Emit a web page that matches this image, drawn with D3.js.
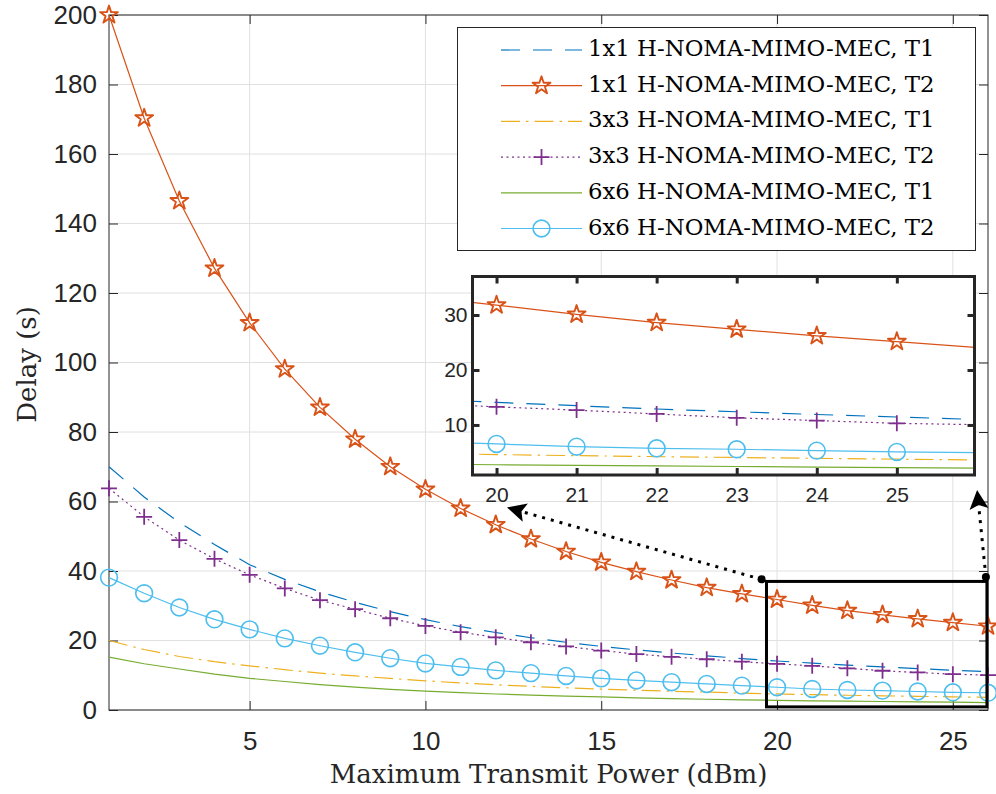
<!DOCTYPE html>
<html>
<head>
<meta charset="utf-8">
<script src="https://cdn.jsdelivr.net/npm/d3@7"></script>
<style>
  body { margin: 0; background: #fff; }
  svg { display: block; }
</style>
</head>
<body>
<svg id="chart" width="996" height="794"></svg>
<script>
// ---- data -------------------------------------------------------------
const power = [1, 2, 3, 4, 5, 6, 7, 8, 9, 10, 11, 12, 13, 14, 15, 16, 17, 18, 19, 20, 21, 22, 23, 24, 25, 26];

const delay1x1T1 = [70.0, 61.3, 54.0, 47.6, 41.8, 37.6, 34.0, 31.0, 28.3, 26.0, 24.0, 22.3, 20.8,
                    19.5, 18.3, 17.3, 16.4, 15.6, 14.8, 14.1, 13.5, 12.9, 12.4, 11.9, 11.45, 11.0];
const delay1x1T2 = [200, 170.3, 146.5, 127.1, 111.4, 98.1, 87.1, 77.9, 70.0, 63.5, 58.0, 53.3, 49.2,
                    45.6, 42.5, 39.8, 37.4, 35.2, 33.4, 31.8, 30.1, 28.6, 27.4, 26.2, 25.15, 24.1];
const delay3x3T1 = [20.0, 17.4, 15.4, 13.9, 12.7, 11.6, 10.6, 9.8, 9.1, 8.4, 7.8, 7.25, 6.8,
                    6.4, 6.0, 5.7, 5.4, 5.15, 4.85, 4.62, 4.42, 4.24, 4.08, 3.93, 3.78, 3.64];
const delay3x3T2 = [63.8, 55.6, 48.9, 43.5, 38.9, 35.0, 31.6, 29.0, 26.4, 24.2, 22.4, 20.9, 19.5,
                    18.3, 17.1, 16.1, 15.3, 14.6, 13.9, 13.3, 12.7, 12.0, 11.3, 10.8, 10.3, 10.05];
const delay6x6T1 = [15.2, 13.3, 11.8, 10.3, 9.1, 8.2, 7.3, 6.6, 5.95, 5.45, 5.0, 4.6, 4.3,
                    4.0, 3.75, 3.5, 3.3, 3.1, 2.92, 2.76, 2.65, 2.55, 2.45, 2.35, 2.25, 2.13];
const delay6x6T2 = [38.1, 33.6, 29.5, 26.1, 23.2, 20.6, 18.5, 16.6, 14.9, 13.4, 12.4, 11.4, 10.6,
                    9.8, 9.1, 8.5, 8.0, 7.5, 7.0, 6.55, 6.05, 5.76, 5.58, 5.33, 5.09, 4.96];

const seriesLabels = [
  "1x1 H-NOMA-MIMO-MEC, T1",
  "1x1 H-NOMA-MIMO-MEC, T2",
  "3x3 H-NOMA-MIMO-MEC, T1",
  "3x3 H-NOMA-MIMO-MEC, T2",
  "6x6 H-NOMA-MIMO-MEC, T1",
  "6x6 H-NOMA-MIMO-MEC, T2"
];

const xTicks = [5, 10, 15, 20, 25];
const yTicks = [0, 20, 40, 60, 80, 100, 120, 140, 160, 180, 200];
const insetXTicks = [20, 21, 22, 23, 24, 25];
const insetYTicks = [10, 20, 30];

// zoom window shown in the inset (x range, y range)
const zoomX = [19.7, 25.97];
const zoomY = [0.9, 37];

// annotation arrows: tail point -> head point, in data units of the main axes
const arrowTails = [[19.56, 37.6], [25.94, 38.3]];
const arrowHeads = [[12.32, 58.3], [25.69, 63.3]];

// ---- styles -----------------------------------------------------------
const ink = "#262626";
const gridColor = "#e0e0e0";
const sansFont = "'Liberation Sans', Arial, Helvetica, sans-serif";
const serifFont = "'DejaVu Serif', serif";

const series = [
  { values: delay1x1T1, color: "#0072BD", dash: "19,13",       marker: null },
  { values: delay1x1T2, color: "#D95319", dash: null,          marker: "star" },
  { values: delay3x3T1, color: "#EDB120", dash: "19,6,2.5,6",  marker: null },
  { values: delay3x3T2, color: "#7E2F8E", dash: "2,3.5",       marker: "plus" },
  { values: delay6x6T1, color: "#77AC30", dash: null,          marker: null },
  { values: delay6x6T2, color: "#4DBEEE", dash: null,          marker: "circle" }
];

// ---- helpers ----------------------------------------------------------
function starPath(R) {
  const r = R * 0.381966;
  const pts = [];
  for (let i = 0; i < 10; i++) {
    const a = -Math.PI / 2 + i * Math.PI / 5;
    const rr = i % 2 === 0 ? R : r;
    pts.push([rr * Math.cos(a), rr * Math.sin(a)]);
  }
  return "M" + pts.map(p => p[0].toFixed(2) + "," + p[1].toFixed(2)).join("L") + "Z";
}

function drawMarkers(sel, type, color, pts) {
  if (type === "star") {
    sel.selectAll("path.mk").data(pts).join("path").attr("class", "mk")
      .attr("d", starPath(9.4))
      .attr("transform", d => `translate(${d[0]},${d[1]})`)
      .attr("fill", "none").attr("stroke", color)
      .attr("stroke-width", 1.9).attr("stroke-linejoin", "round");
  } else if (type === "circle") {
    sel.selectAll("circle.mk").data(pts).join("circle").attr("class", "mk")
      .attr("cx", d => d[0]).attr("cy", d => d[1]).attr("r", 8.4)
      .attr("fill", "none").attr("stroke", color).attr("stroke-width", 1.6);
  } else if (type === "plus") {
    sel.selectAll("path.mk").data(pts).join("path").attr("class", "mk")
      .attr("d", "M-8,0H8M0,-8V8")
      .attr("transform", d => `translate(${d[0]},${d[1]})`)
      .attr("fill", "none").attr("stroke", color).attr("stroke-width", 1.8);
  }
}

function styleAxis(g, fontSize) {
  g.selectAll(".domain").remove();
  g.selectAll(".tick line").attr("stroke", ink);
  g.selectAll(".tick text").attr("fill", ink)
    .style("font-family", sansFont).style("font-size", fontSize + "px");
}

const intFmt = d3.format("d");

// ---- main axes --------------------------------------------------------
const svg = d3.select("#chart");
const plot = { left: 109, right: 988, top: 15, bottom: 710 };

const x = d3.scaleLinear().domain([1, 26]).range([plot.left, plot.right]);
const y = d3.scaleLinear().domain([0, 200]).range([plot.bottom, plot.top]);

svg.append("rect").attr("width", 996).attr("height", 794).attr("fill", "#fff");

// grid
const grid = svg.append("g");
grid.selectAll("line.gx").data(xTicks).join("line").attr("class", "gx")
  .attr("x1", d => x(d)).attr("x2", d => x(d))
  .attr("y1", plot.top).attr("y2", plot.bottom)
  .attr("stroke", gridColor).attr("stroke-width", 1);
grid.selectAll("line.gy").data(yTicks).join("line").attr("class", "gy")
  .attr("x1", plot.left).attr("x2", plot.right)
  .attr("y1", d => y(d)).attr("y2", d => y(d))
  .attr("stroke", gridColor).attr("stroke-width", 1);

// axes with inward ticks on all four sides
const axB = svg.append("g").attr("transform", `translate(0,${plot.bottom})`)
  .call(d3.axisBottom(x).tickValues(xTicks).tickFormat(intFmt)
    .tickSizeInner(-9).tickSizeOuter(0).tickPadding(22));
styleAxis(axB, 26);
const axT = svg.append("g").attr("transform", `translate(0,${plot.top})`)
  .call(d3.axisTop(x).tickValues(xTicks).tickSizeInner(-9).tickSizeOuter(0).tickFormat(""));
styleAxis(axT, 26);
const axL = svg.append("g").attr("transform", `translate(${plot.left},0)`)
  .call(d3.axisLeft(y).tickValues(yTicks).tickFormat(intFmt)
    .tickSizeInner(-9).tickSizeOuter(0).tickPadding(12));
styleAxis(axL, 26);
const axR = svg.append("g").attr("transform", `translate(${plot.right},0)`)
  .call(d3.axisRight(y).tickValues(yTicks).tickSizeInner(-9).tickSizeOuter(0).tickFormat(""));
styleAxis(axR, 26);

svg.append("rect")
  .attr("x", plot.left).attr("y", plot.top)
  .attr("width", plot.right - plot.left).attr("height", plot.bottom - plot.top)
  .attr("fill", "none").attr("stroke", ink).attr("stroke-width", 1);

// axis titles
svg.append("text")
  .attr("x", (plot.left + plot.right) / 2).attr("y", 783)
  .attr("text-anchor", "middle").attr("fill", ink)
  .style("font-family", serifFont).style("font-size", "26px")
  .text("Maximum Transmit Power (dBm)");
svg.append("text")
  .attr("transform", `translate(27,${(plot.top + plot.bottom) / 2 + 2}) rotate(-90)`)
  .attr("text-anchor", "middle").attr("dominant-baseline", "central").attr("fill", ink)
  .style("font-family", serifFont).style("font-size", "26px")
  .text("Delay (s)");

// ---- curves in the main axes -------------------------------------------
function drawSeries(parent, xs, ys, markerFilter) {
  const line = d3.line().x((d, i) => xs(power[i])).y(d => ys(d));
  series.forEach(s => {
    const p = parent.append("path").datum(s.values)
      .attr("d", line).attr("fill", "none")
      .attr("stroke", s.color).attr("stroke-width", 1.2);
    if (s.dash) p.attr("stroke-dasharray", s.dash);
  });
  series.forEach(s => {
    if (!s.marker) return;
    const pts = s.values.map((v, i) => [power[i], v])
      .filter(markerFilter)
      .map(d => [xs(d[0]), ys(d[1])]);
    drawMarkers(parent.append("g"), s.marker, s.color, pts);
  });
}
drawSeries(svg.append("g"), x, y, () => true);

// ---- zoom window and arrows --------------------------------------------
svg.append("rect")
  .attr("x", x(zoomX[0])).attr("y", y(zoomY[1]))
  .attr("width", x(zoomX[1]) - x(zoomX[0])).attr("height", y(zoomY[0]) - y(zoomY[1]))
  .attr("fill", "none").attr("stroke", "#000").attr("stroke-width", 3);

arrowTails.forEach((t, i) => {
  const h = arrowHeads[i];
  const x0 = x(t[0]), y0 = y(t[1]), x1 = x(h[0]), y1 = y(h[1]);
  const ang = Math.atan2(y1 - y0, x1 - x0);
  const L = 19, Wd = 19, notch = 15;
  const ex = x1 - Math.cos(ang) * notch, ey = y1 - Math.sin(ang) * notch;
  svg.append("line")
    .attr("x1", x0).attr("y1", y0).attr("x2", ex).attr("y2", ey)
    .attr("stroke", "#000").attr("stroke-width", 3).attr("stroke-dasharray", "3,6");
  svg.append("path")
    .attr("d", `M0,0L${-L},${-Wd / 2}L${-notch},0L${-L},${Wd / 2}Z`)
    .attr("transform", `translate(${x1},${y1}) rotate(${ang * 180 / Math.PI})`)
    .attr("fill", "#000");
  svg.append("circle").attr("cx", x0).attr("cy", y0).attr("r", 4).attr("fill", "#000");
});

// ---- inset axes --------------------------------------------------------
const inset = { left: 472.5, right: 974.5, top: 276.5, bottom: 475 };
const xi = d3.scaleLinear().domain(zoomX).range([inset.left, inset.right]);
const yi = d3.scaleLinear().domain(zoomY).range([inset.bottom, inset.top]);

const ig = svg.append("g");
ig.append("rect")
  .attr("x", inset.left).attr("y", inset.top)
  .attr("width", inset.right - inset.left).attr("height", inset.bottom - inset.top)
  .attr("fill", "#fff");

svg.append("defs").append("clipPath").attr("id", "insetClip")
  .append("rect")
  .attr("x", inset.left).attr("y", inset.top)
  .attr("width", inset.right - inset.left).attr("height", inset.bottom - inset.top);

drawSeries(ig.append("g").attr("clip-path", "url(#insetClip)"), xi, yi,
  d => d[0] >= zoomX[0] && d[0] <= zoomX[1] && d[1] >= zoomY[0] && d[1] <= zoomY[1]);

function styleInsetAxis(g) {
  styleAxis(g, 21);
  g.selectAll(".tick line").attr("stroke-width", 3);
}
const iaB = ig.append("g").attr("transform", `translate(0,${inset.bottom})`)
  .call(d3.axisBottom(xi).tickValues(insetXTicks).tickFormat(intFmt)
    .tickSizeInner(-7).tickSizeOuter(0).tickPadding(12));
styleInsetAxis(iaB);
const iaT = ig.append("g").attr("transform", `translate(0,${inset.top})`)
  .call(d3.axisTop(xi).tickValues(insetXTicks).tickSizeInner(-7).tickSizeOuter(0).tickFormat(""));
styleInsetAxis(iaT);
const iaL = ig.append("g").attr("transform", `translate(${inset.left},0)`)
  .call(d3.axisLeft(yi).tickValues(insetYTicks).tickFormat(intFmt)
    .tickSizeInner(-7).tickSizeOuter(0).tickPadding(5));
styleInsetAxis(iaL);
const iaR = ig.append("g").attr("transform", `translate(${inset.right},0)`)
  .call(d3.axisRight(yi).tickValues(insetYTicks).tickSizeInner(-7).tickSizeOuter(0).tickFormat(""));
styleInsetAxis(iaR);

ig.append("rect")
  .attr("x", inset.left).attr("y", inset.top)
  .attr("width", inset.right - inset.left).attr("height", inset.bottom - inset.top)
  .attr("fill", "none").attr("stroke", ink).attr("stroke-width", 3);

// ---- legend ------------------------------------------------------------
const lg = svg.append("g");
lg.append("rect")
  .attr("x", 457.5).attr("y", 27.5).attr("width", 518).attr("height", 223)
  .attr("fill", "#fff").attr("stroke", ink).attr("stroke-width", 1);

const rowY = i => 50 + i * 35.7;
series.forEach((s, i) => {
  const row = lg.append("g");
  const ln = row.append("line")
    .attr("x1", 501).attr("x2", 582).attr("y1", rowY(i)).attr("y2", rowY(i))
    .attr("stroke", s.color).attr("stroke-width", 1.2);
  if (s.dash) ln.attr("stroke-dasharray", s.dash);
  if (s.marker) drawMarkers(row.append("g"), s.marker, s.color, [[541.5, rowY(i)]]);
  row.append("text")
    .attr("x", 588).attr("y", rowY(i) + 6)
    .attr("fill", "#000")
    .style("font-family", serifFont).style("font-size", "22.8px")
    .text(seriesLabels[i]);
});
</script>
</body>
</html>
